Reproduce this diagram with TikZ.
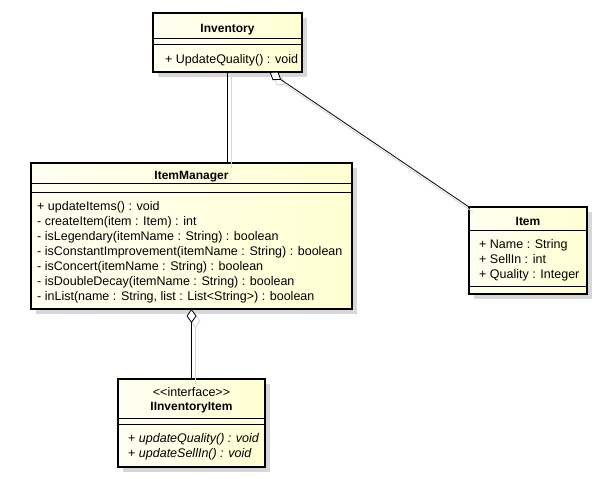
\documentclass[tikz,border=0pt]{standalone}
\usepackage{fontspec}
\setmainfont{Liberation Sans}
\usetikzlibrary{arrows.meta}
\usetikzlibrary{shadows}

\definecolor{clsleft}{RGB}{255,255,242}
\definecolor{clsright}{RGB}{255,255,210}
\definecolor{shadowgray}{RGB}{215,215,215}

\tikzset{
  cls/.style={rectangle, draw, line width=1.5pt, anchor=north west, inner sep=0pt, outer sep=0pt,
    left color=clsleft, right color=clsright,
    drop shadow={shadow xshift=5pt, shadow yshift=-5pt, fill=shadowgray, opacity=1}},
  sep/.style={line width=0.8pt},
  clsname/.style={font=\bfseries\fontsize{12}{14}\selectfont, anchor=base, inner sep=0pt},
  member/.style={font=\fontsize{12.5}{14}\selectfont, anchor=base west, inner sep=0pt},
  conn/.style={line width=0.8pt},
  connshadow/.style={line width=0.8pt, draw=shadowgray, transform canvas={xshift=4pt, yshift=-5pt}},
  agg/.style={-{Diamond[fill=white, length=14pt, width=10pt]}},
  aggshadow/.style={-{Diamond[open, length=14pt, width=10pt]}},
}

\begin{document}
\begin{tikzpicture}[x=1pt, y=-1pt]
  \useasboundingbox[fill=white] (0,0) rectangle (603,479);

  % classes
  \node[cls, minimum width=149pt, minimum height=59pt]  (inv)   at (153,13)  {};
  \node[cls, minimum width=321pt, minimum height=146pt] (mgr)   at (31,163)  {};
  \node[cls, minimum width=118pt, minimum height=87pt]  (item)  at (469,207) {};
  \node[cls, minimum width=147pt, minimum height=88pt]  (iitem) at (118,379) {};

  % compartments
  \draw[sep] (inv.west |- 0,38) -- (inv.east |- 0,38);
  \draw[sep] (inv.west |- 0,44) -- (inv.east |- 0,44);
  \draw[sep] (mgr.west |- 0,183) -- (mgr.east |- 0,183);
  \draw[sep] (mgr.west |- 0,192) -- (mgr.east |- 0,192);
  \draw[sep] (item.west |- 0,230) -- (item.east |- 0,230);
  \draw[sep] (item.west |- 0,286) -- (item.east |- 0,286);
  \draw[sep] (iitem.west |- 0,418) -- (iitem.east |- 0,418);
  \draw[sep] (iitem.west |- 0,424) -- (iitem.east |- 0,424);

  % Inventory
  \node[clsname] (invname) at (227.5,32) {Inventory};
  \node[member]  (invop1)  at (165,63)   {+ UpdateQuality() : void};

  % ItemManager
  \node[clsname] (mgrname) at (191.5,179) {ItemManager};
  \node[member] (mgrop1) at (37,210) {+ updateItems() : void};
  \node[member] (mgrop2) at (37,225) {- createItem(item : Item) : int};
  \node[member] (mgrop3) at (37,240) {- isLegendary(itemName : String) : boolean};
  \node[member] (mgrop4) at (37,255) {- isConstantImprovement(itemName : String) : boolean};
  \node[member] (mgrop5) at (37,270) {- isConcert(itemName : String) : boolean};
  \node[member] (mgrop6) at (37,285) {- isDoubleDecay(itemName : String) : boolean};
  \node[member] (mgrop7) at (37,300) {- inList(name : String, list : List<String>) : boolean};

  % Item
  \node[clsname] (itemname) at (528,225) {Item};
  \node[member] (itemattr1) at (479,248) {+ Name : String};
  \node[member] (itemattr2) at (479,263) {+ SellIn : int};
  \node[member] (itemattr3) at (479,278) {+ Quality : Integer};

  % IInventoryItem
  \node[member, anchor=base] (iitemstereo) at (191.5,396) {<{}<interface>{}>};
  \node[clsname] (iitemname) at (191.5,410) {IInventoryItem};
  \node[member] (iitemop1) at (128,442) {+ \textit{updateQuality() : void}};
  \node[member] (iitemop2) at (128,457) {+ \textit{updateSellIn() : void}};

  % connector shadows
  \draw[connshadow] (inv.south) -- (inv.south |- mgr.north);
  \draw[connshadow, aggshadow] (item.north west) -- (inv.-35.4);
  \draw[connshadow, aggshadow] (iitem.north) -- (mgr.south);

  % connectors
  \draw[conn] (inv.south) -- (inv.south |- mgr.north);
  \draw[conn, agg] (item.north west) -- (inv.-35.4);
  \draw[conn, agg] (iitem.north) -- (mgr.south);
\end{tikzpicture}
\end{document}
